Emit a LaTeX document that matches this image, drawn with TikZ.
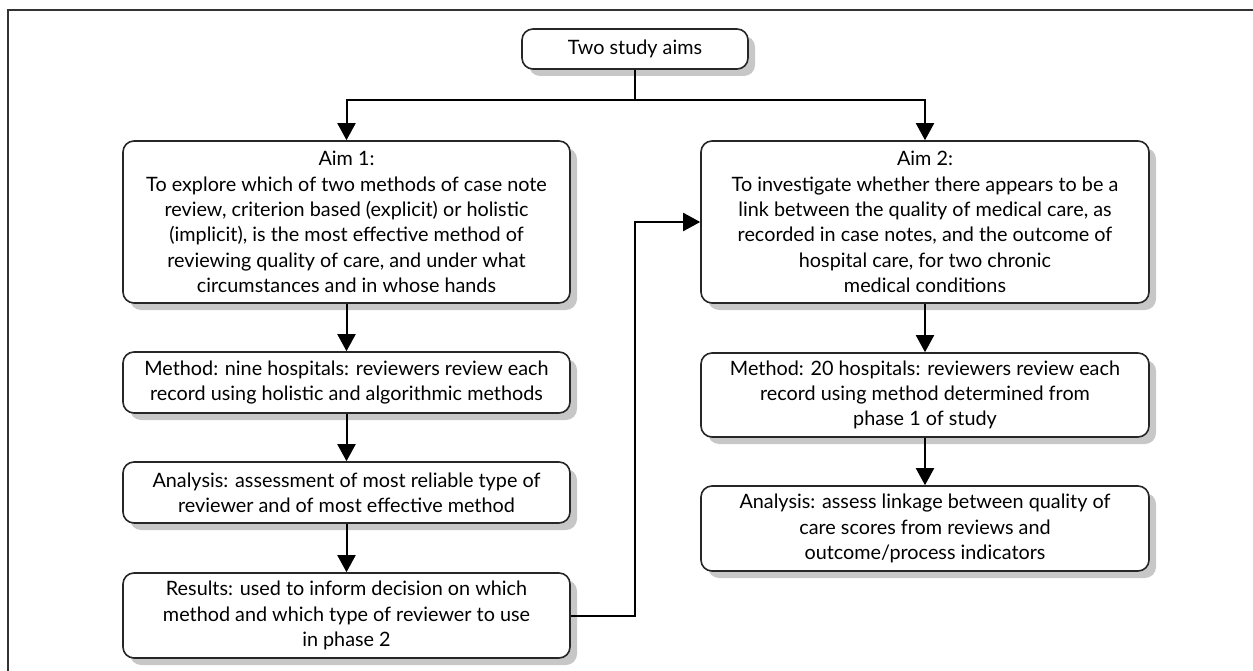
\documentclass[tikz,border=0pt]{standalone}
\usepackage{fontspec}
\setmainfont{Lato}
\usetikzlibrary{arrows.meta,shadows}
\begin{document}
\begin{tikzpicture}[x=1pt,y=-1pt,
  box/.style={draw=black!85, line width=1.6pt, rounded corners=11pt, fill=white,
    align=center, inner sep=0pt, font=\fontsize{19.8}{25.4}\selectfont,
    drop shadow={shadow xshift=7pt, shadow yshift=-7pt, fill=black!22, opacity=1}},
  conn/.style={line width=2pt, black},
  arr/.style={conn, -{Triangle[length=17pt,width=18pt]}}]
\useasboundingbox (0,0) rectangle (1253,671);
\draw[line width=1.4pt, black!80] (8,671) -- (8,10) -- (1253,10);

\node[box, minimum width=226pt, minimum height=40pt] (top) at (635,49) {Two study aims};

\node[box, minimum width=447pt, minimum height=162pt] (aim1) at (346.5,222) {Aim 1:\\
To explore which of two methods of case note\\
review, criterion based (explicit) or holistic\\
(implicit), is the most effective method of\\
reviewing quality of care, and under what\\
circumstances and in whose hands};

\node[box, minimum width=448pt, minimum height=162pt] (aim2) at (925,222) {Aim 2:\\
To investigate whether there appears to be a\\
link between the quality of medical care, as\\
recorded in case notes, and the outcome of\\
hospital care, for two chronic\\
medical conditions};

\node[box, minimum width=447pt, minimum height=61pt] (m1) at (346.5,382.5) {Method: nine hospitals: reviewers review each\\
record using holistic and algorithmic methods};

\node[box, minimum width=447pt, minimum height=61pt] (a1) at (346.5,492.5) {Analysis: assessment of most reliable type of\\
reviewer and of most effective method};

\node[box, minimum width=447pt, minimum height=85pt] (r1) at (346.5,615.5) {Results: used to inform decision on which\\
method and which type of reviewer to use\\
in phase 2};

\node[box, minimum width=448pt, minimum height=84pt] (m2) at (925,395) {Method: 20 hospitals: reviewers review each\\
record using method determined from\\
phase 1 of study};

\node[box, minimum width=448pt, minimum height=85pt] (a2) at (925,528.5) {Analysis: assess linkage between quality of\\
care scores from reviews and\\
outcome/process indicators};

\coordinate (split) at (635,100);
\draw[conn] (top.south) -- (split);
\draw[arr] (split) -| (aim1.north);
\draw[arr] (split) -| (aim2.north);
\draw[arr] (aim1) -- (m1);
\draw[arr] (m1) -- (a1);
\draw[arr] (a1) -- (r1);
\draw[arr] (aim2) -- (m2);
\draw[arr] (m2) -- (a2);
\draw[arr] (r1.east) -- (r1.east -| split) |- (aim2.west);
\end{tikzpicture}
\end{document}
